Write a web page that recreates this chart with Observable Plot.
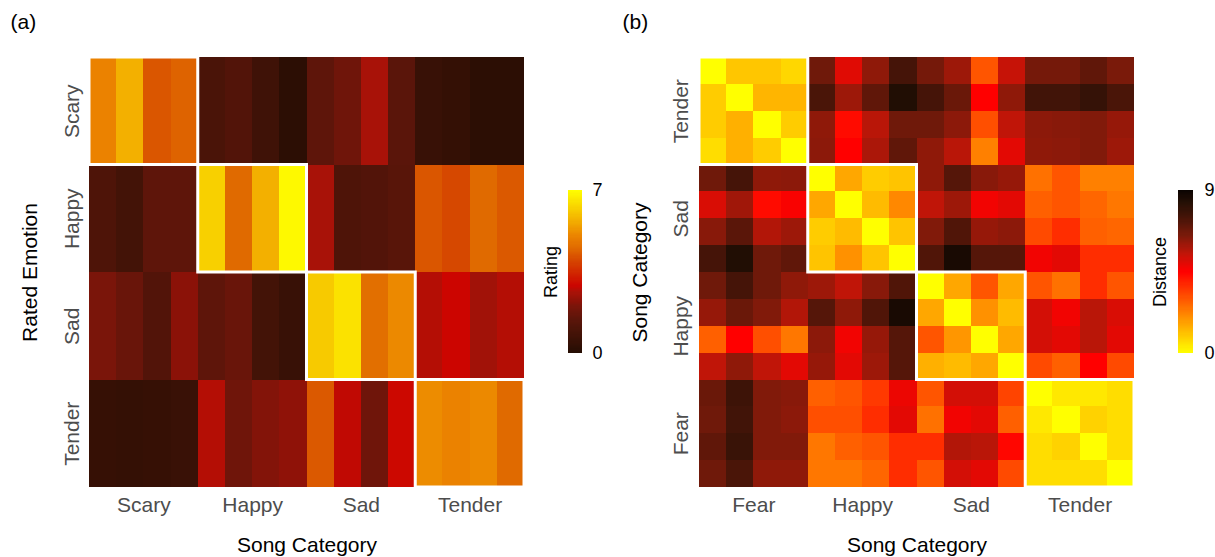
<!DOCTYPE html>
<html><head><meta charset="utf-8">
<script src="https://cdn.jsdelivr.net/npm/d3@7"></script>
<script src="https://cdn.jsdelivr.net/npm/@observablehq/plot@0.6"></script>
<style>
body{margin:0;background:#fff;}
#root{position:relative;width:1215px;height:557px;overflow:hidden;font-family:"Liberation Sans",Arial,sans-serif;}
</style></head><body><div id="root"></div>
<script>
// ---------- Panel (a) data ----------
const songCatsA = ["Scary", "Happy", "Sad", "Tender"];
const ratedEmotions = ["Scary", "Happy", "Sad", "Tender"];
const ratingScary  = [5.0, 5.7, 4.2, 4.4, 1.0, 1.2, 0.7, 0.2, 1.5, 1.8, 2.6, 1.4, 0.5, 0.4, 0.2, 0.2];
const ratingHappy  = [1.1, 0.8, 1.5, 1.5, 6.2, 4.5, 5.7, 6.9, 2.6, 1.1, 1.2, 1.35, 4.2, 4.0, 4.5, 4.25];
const ratingSad    = [2.0, 1.7, 1.2, 2.2, 1.5, 1.7, 0.8, 0.5, 6.1, 6.5, 4.6, 5.1, 2.7, 2.9, 2.5, 2.7];
const ratingTender = [0.45, 0.4, 0.45, 0.55, 2.7, 1.8, 2.1, 2.25, 4.25, 2.8, 1.8, 2.95, 5.15, 5.0, 5.1, 4.5];
const ratingLegendTicks = [0, 7];

// ---------- Panel (b) data (rows listed top to bottom) ----------
const songCatsB = ["Fear", "Happy", "Sad", "Tender"];
const rowLabelsB = ["Tender", "Sad", "Happy", "Fear"];
const distRowsTender = [
  [0, 1.0, 1.0, 0.7, 6.7, 5.0, 6.2, 7.5, 6.6, 6.0, 3.0, 5.4, 6.6, 6.6, 7.0, 6.5],
  [0.9, 0, 1.3, 1.3, 7.4, 6.0, 7.0, 8.4, 7.5, 6.8, 4.5, 6.2, 7.6, 7.6, 7.9, 7.4],
  [0.9, 1.4, 0, 0.9, 6.2, 4.3, 5.6, 6.7, 6.7, 6.25, 3.1, 5.5, 6.25, 6.3, 6.4, 6.1],
  [0.6, 1.4, 0.9, 0, 6.25, 4.5, 5.8, 7.0, 6.2, 5.6, 2.25, 4.95, 6.2, 6.25, 6.4, 6.0]
];
const distRowsSad = [
  [6.7, 7.5, 6.2, 6.25, 0, 1.55, 0.9, 1.05, 6.2, 7.2, 6.3, 6.1, 2.5, 3.0, 2.25, 2.25],
  [5.1, 5.96, 4.3, 4.6, 1.55, 0, 1.2, 2.1, 5.5, 6.0, 4.7, 4.95, 2.8, 3.0, 2.7, 2.4],
  [6.3, 7.1, 5.7, 6.0, 0.9, 1.2, 0, 1.05, 6.4, 7.3, 6.1, 6.25, 3.2, 3.7, 2.8, 2.7],
  [7.5, 8.4, 6.7, 7.0, 1.05, 1.95, 1.05, 0, 7.3, 8.6, 7.2, 7.2, 4.7, 4.95, 3.7, 3.7]
];
const distRowsHappy = [
  [6.7, 7.5, 6.7, 6.2, 6.0, 5.5, 6.3, 7.3, 0, 1.55, 3.0, 1.55, 3.0, 2.5, 3.7, 3.0],
  [6.1, 6.8, 6.4, 5.7, 7.2, 6.2, 7.3, 8.6, 1.55, 0, 1.95, 1.2, 5.2, 4.7, 5.6, 5.1],
  [2.8, 4.5, 3.1, 2.4, 6.25, 4.7, 6.1, 7.2, 3.0, 1.85, 0, 1.55, 5.2, 4.95, 5.6, 4.95],
  [5.5, 6.2, 5.5, 4.95, 6.1, 4.95, 6.0, 7.2, 1.4, 1.2, 1.55, 0, 3.2, 2.8, 4.5, 3.2]
];
const distRowsFear = [
  [6.8, 7.7, 6.4, 6.3, 2.8, 3.0, 3.5, 4.8, 3.0, 5.2, 5.2, 3.3, 0, 0.4, 0.4, 0.6],
  [6.7, 7.6, 6.4, 6.25, 3.1, 3.1, 3.7, 4.95, 2.5, 4.7, 4.95, 2.8, 0.4, 0, 0.8, 0.6],
  [7.0, 7.8, 6.4, 6.4, 2.4, 2.8, 3.0, 3.7, 3.7, 5.7, 5.6, 4.4, 0.6, 0.8, 0, 0.6],
  [6.7, 7.4, 6.2, 6.2, 2.4, 2.4, 2.7, 3.7, 3.0, 5.2, 4.95, 3.2, 0.6, 0.6, 0.6, 0]
];
const distLegendTicks = [0, 9];

// ---------- colour scales ----------
const ratingStops  = [0, 1, 1.5, 2, 2.2, 2.6, 2.9, 4.0, 4.5, 5.0, 5.7, 6.2, 7];
const ratingColors = ["#250d03", "#4a1408", "#5e150a", "#7a150a", "#8b1208", "#a81208", "#cc0500", "#d64800", "#e06a00", "#eb8200", "#f3b000", "#f8d000", "#ffff00"];
const distStops  = [0, 4.5, 5.5, 6.5, 7.5, 8.3, 9];
const distColors = ["#ffff00", "#ff0000", "#c01508", "#7a1a0a", "#451408", "#251005", "#0a0301"];

const ratingColor = {type: "linear", domain: ratingStops, range: ratingColors, interpolate: "rgb"};
const distColor = {type: "linear", domain: distStops, range: distColors, interpolate: "rgb"};

const font = "Liberation Sans, Arial, Helvetica, sans-serif";
const gray = "#4d4d4d";
const fs = 21;
const root = document.getElementById("root");
function place(el, left) {
  el.style.position = "absolute";
  el.style.left = left + "px";
  el.style.top = "0px";
  el.style.overflow = "visible";
  root.appendChild(el);
}
const baseStyle = {fontFamily: font, background: "transparent", overflow: "visible"};

// ---------- Panel (a) ----------
const ratingRows = [ratingScary, ratingHappy, ratingSad, ratingTender];
const cellsA = ratingRows.flatMap((row, r) => row.map((v, c) => ({r, c, v})));
const plotA = Plot.plot({
  width: 530, height: 557,
  marginLeft: 89, marginRight: 6, marginTop: 57, marginBottom: 70,
  x: {domain: [0, 16], axis: null},
  y: {domain: [0, 4], reverse: true, axis: null},
  color: ratingColor,
  style: baseStyle,
  marks: [
    Plot.rect(cellsA, {x1: "c", x2: d => d.c + 1, y1: "r", y2: d => d.r + 1, fill: "v", shapeRendering: "crispEdges"}),
    Plot.rect(songCatsA, {x1: (d, i) => 4 * i, x2: (d, i) => 4 * i + 4, y1: (d, i) => i, y2: (d, i) => i + 1, fill: "none", stroke: "white", strokeWidth: 3}),
    Plot.text(songCatsA, {x: (d, i) => 4 * i + 2, y: 4, text: d => d, dy: 18, fontSize: fs, fill: gray, textAnchor: "middle", lineAnchor: "middle"}),
    Plot.text(ratedEmotions, {x: 0, y: (d, i) => i + 0.5, text: d => d, dx: -17, rotate: -90, fontSize: fs, fill: gray, textAnchor: "middle", lineAnchor: "middle"}),
    Plot.text(["Song Category"], {frameAnchor: "bottom", text: d => d, dy: 58, fontSize: fs, fill: "black", textAnchor: "middle", lineAnchor: "middle"}),
    Plot.text(["Rated Emotion"], {frameAnchor: "left", text: d => d, dx: -59, rotate: -90, fontSize: fs, fill: "black", textAnchor: "middle", lineAnchor: "middle"}),
    Plot.text(["(a)"], {frameAnchor: "top-left", text: d => d, dx: -79, dy: -35, fontSize: 21, fill: "black", textAnchor: "start", lineAnchor: "middle"})
  ]
});
place(plotA, 0);

// legend (a)
const legA = Plot.plot({
  width: 80, height: 557,
  marginLeft: 28, marginRight: 38, marginTop: 190, marginBottom: 204,
  x: {domain: [0, 1], axis: null},
  y: {domain: [0, 7], axis: null},
  color: ratingColor,
  style: baseStyle,
  marks: [
    Plot.rect(d3.range(0, 7, 0.05), {x1: 0, x2: 1, y1: d => d, y2: d => Math.min(7, d + 0.07), fill: d => d + 0.025, shapeRendering: "crispEdges"}),
    Plot.text(ratingLegendTicks, {x: 1, y: d => d, text: d => String(d), dx: 10, fontSize: 18, fill: "black", textAnchor: "start", lineAnchor: "middle"}),
    Plot.text(["Rating"], {x: 0, y: 3.5, text: d => d, dx: -17, rotate: -90, fontSize: 18, fill: "black", textAnchor: "middle", lineAnchor: "middle"})
  ]
});
place(legA, 540);

// ---------- Panel (b) ----------
const distRows = [...distRowsTender, ...distRowsSad, ...distRowsHappy, ...distRowsFear];
const cellsB = distRows.flatMap((row, r) => row.map((v, c) => ({r, c, v})));
const plotB = Plot.plot({
  width: 540, height: 557,
  marginLeft: 99, marginRight: 6, marginTop: 57, marginBottom: 70,
  x: {domain: [0, 16], axis: null},
  y: {domain: [0, 16], reverse: true, axis: null},
  color: distColor,
  style: baseStyle,
  marks: [
    Plot.rect(cellsB, {x1: "c", x2: d => d.c + 1, y1: "r", y2: d => d.r + 1, fill: "v", shapeRendering: "crispEdges"}),
    Plot.rect(songCatsB, {x1: (d, i) => 4 * i, x2: (d, i) => 4 * i + 4, y1: (d, i) => 4 * i, y2: (d, i) => 4 * i + 4, fill: "none", stroke: "white", strokeWidth: 3}),
    Plot.text(songCatsB, {x: (d, i) => 4 * i + 2, y: 16, text: d => d, dy: 18, fontSize: fs, fill: gray, textAnchor: "middle", lineAnchor: "middle"}),
    Plot.text(rowLabelsB, {x: 0, y: (d, i) => 4 * i + 2, text: d => d, dx: -18, rotate: -90, fontSize: fs, fill: gray, textAnchor: "middle", lineAnchor: "middle"}),
    Plot.text(["Song Category"], {frameAnchor: "bottom", text: d => d, dy: 58, fontSize: fs, fill: "black", textAnchor: "middle", lineAnchor: "middle"}),
    Plot.text(["Song Category"], {frameAnchor: "left", text: d => d, dx: -59, rotate: -90, fontSize: fs, fill: "black", textAnchor: "middle", lineAnchor: "middle"}),
    Plot.text(["(b)"], {frameAnchor: "top-left", text: d => d, dx: -77, dy: -35, fontSize: 21, fill: "black", textAnchor: "start", lineAnchor: "middle"})
  ]
});
place(plotB, 600);

// legend (b)
const legB = Plot.plot({
  width: 75, height: 557,
  marginLeft: 38, marginRight: 22, marginTop: 190, marginBottom: 204,
  x: {domain: [0, 1], axis: null},
  y: {domain: [0, 9], axis: null},
  color: distColor,
  style: baseStyle,
  marks: [
    Plot.rect(d3.range(0, 9, 0.06), {x1: 0, x2: 1, y1: d => d, y2: d => Math.min(9, d + 0.085), fill: d => d + 0.03, shapeRendering: "crispEdges"}),
    Plot.text(distLegendTicks, {x: 1, y: d => d, text: d => String(d), dx: 11, fontSize: 18, fill: "black", textAnchor: "start", lineAnchor: "middle"}),
    Plot.text(["Distance"], {x: 0, y: 4.5, text: d => d, dx: -18, rotate: -90, fontSize: 18, fill: "black", textAnchor: "middle", lineAnchor: "middle"})
  ]
});
place(legB, 1140);
</script>
</body></html>
